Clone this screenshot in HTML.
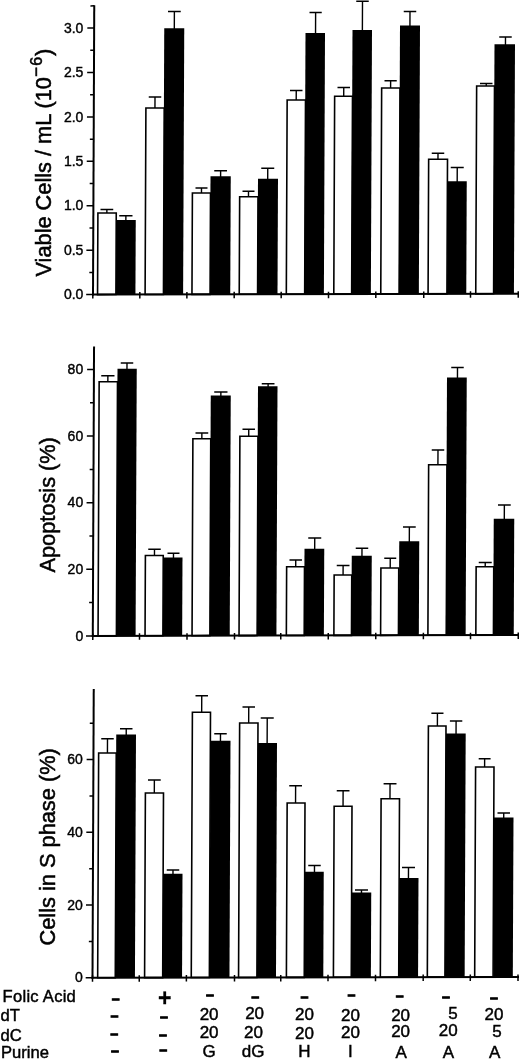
<!DOCTYPE html>
<html lang="en"><head><meta charset="utf-8"><title>Figure</title>
<style>
html,body{margin:0;padding:0;background:#fff;}
body{width:520px;height:1059px;overflow:hidden;}
svg{display:block;font-family:"Liberation Sans",sans-serif;fill:#000;}
.w{fill:#fff;stroke:#000;stroke-width:1.6;}
.b{fill:#000;}
.e{fill:none;stroke:#000;stroke-width:1.4;}
.a{fill:none;stroke:#000;stroke-width:2;}
.t{fill:none;stroke:#000;stroke-width:1.5;}
.l{font-size:14px;text-anchor:end;stroke:#000;stroke-width:.4;}
.ti{stroke:#000;stroke-width:.5;}
.r{font-size:16.6px;stroke:#000;stroke-width:.45;}
.v{font-size:17px;text-anchor:middle;stroke:#000;stroke-width:.45;}
.d{font-size:13.5px;font-weight:bold;text-anchor:middle;stroke:#000;stroke-width:1.1;}
.p{font-size:23px;font-weight:bold;text-anchor:middle;stroke:#000;stroke-width:.3;}
</style></head><body>
<svg width="520" height="1059" viewBox="0 0 520 1059">
<rect width="520" height="1059" fill="#fff"/>
<g transform="matrix(1 -0.002 -0.0043 1 1.27 0.19)">
<path d="M100.13 209.53H112.88M106.51 209.53V213.53" class="e"/>
<rect x="97.55" y="212.98" width="18.35" height="81.62" class="w"/>
<path d="M118.91 215.82H132.16M125.54 215.82V221.07" class="e"/>
<rect x="115.93" y="220.07" width="19.5" height="74.53" class="b"/>
<path d="M147.9 97.12H160.4M154.15 97.12V108.62" class="e"/>
<rect x="145.1" y="108.07" width="18.35" height="186.53" class="w"/>
<path d="M166.78 11.66H179.53M173.16 11.66V29.41" class="e"/>
<rect x="163.1" y="28.41" width="20" height="266.19" class="b"/>
<path d="M195.04 188.22H207.04M201.04 188.22V193.72" class="e"/>
<rect x="191.96" y="193.17" width="18.1" height="101.43" class="w"/>
<path d="M213.72 171.01H226.47M220.09 171.01V177.51" class="e"/>
<rect x="209.99" y="176.51" width="20.25" height="118.09" class="b"/>
<path d="M242.06 191.56H254.06M248.06 191.56V197.56" class="e"/>
<rect x="239.23" y="197.01" width="18.35" height="97.59" class="w"/>
<path d="M260.71 168.6H273.71M267.21 168.6V180.1" class="e"/>
<rect x="257.5" y="179.1" width="20" height="115.5" class="b"/>
<path d="M289.12 90.91H301.62M295.37 90.91V100.91" class="e"/>
<rect x="286.31" y="100.36" width="18.35" height="194.24" class="w"/>
<path d="M308.29 12.95H320.54M314.41 12.95V34.44" class="e"/>
<rect x="304.38" y="33.44" width="19.5" height="261.16" class="b"/>
<path d="M336.61 88H349.11M342.86 88V97.25" class="e"/>
<rect x="333.79" y="96.7" width="17.85" height="197.9" class="w"/>
<path d="M354.99 1.79H367.49M361.24 1.79V31.54" class="e"/>
<rect x="351.36" y="30.54" width="19.5" height="264.06" class="b"/>
<path d="M383.58 81.35H395.83M389.71 81.35V89.1" class="e"/>
<rect x="380.76" y="88.55" width="18.35" height="206.05" class="w"/>
<path d="M402.53 12.13H415.03M408.78 12.13V27.13" class="e"/>
<rect x="398.84" y="26.13" width="20" height="268.47" class="b"/>
<path d="M431.14 153.94H443.64M437.39 153.94V160.44" class="e"/>
<rect x="428.07" y="159.89" width="18.85" height="134.71" class="w"/>
<path d="M450.2 168.23H463.2M456.7 168.23V182.98" class="e"/>
<rect x="447.01" y="181.98" width="19.25" height="112.62" class="b"/>
<path d="M479.09 84.29H491.59M485.34 84.29V87.28" class="e"/>
<rect x="475.75" y="86.73" width="17.85" height="207.87" class="w"/>
<path d="M498.14 37.83H510.64M504.39 37.83V46.07" class="e"/>
<rect x="493.42" y="45.07" width="20.5" height="249.53" class="b"/>
<path d="M93 5.2V295.6" class="a"/>
<path d="M92 294.6H519" class="a"/>
<path d="M86.2 294.6H93" class="t"/>
<path d="M86.2 250.18H93" class="t"/>
<path d="M86.2 205.76H93" class="t"/>
<path d="M86.2 161.34H93" class="t"/>
<path d="M86.2 116.92H93" class="t"/>
<path d="M86.2 72.5H93" class="t"/>
<path d="M86.2 28.08H93" class="t"/>
<path d="M89.2 272.39H93" class="t"/>
<path d="M89.2 227.97H93" class="t"/>
<path d="M89.2 183.55H93" class="t"/>
<path d="M89.2 139.13H93" class="t"/>
<path d="M89.2 94.71H93" class="t"/>
<path d="M89.2 50.29H93" class="t"/>
<path d="M89.2 5.87H93" class="t"/>
<path d="M92.8 292.1V298.6" class="t"/>
<path d="M139.8 292.1V298.6" class="t"/>
<path d="M186.9 292.1V298.6" class="t"/>
<path d="M234.2 292.1V298.6" class="t"/>
<path d="M281.2 292.1V298.6" class="t"/>
<path d="M328.5 292.1V298.6" class="t"/>
<path d="M375.8 292.1V298.6" class="t"/>
<path d="M423.75 292.1V298.6" class="t"/>
<path d="M470.5 292.1V298.6" class="t"/>
<path d="M518.25 292.1V298.6" class="t"/>
</g>
<text x="83.4" y="299.3" class="l">0.0</text>
<text x="83.4" y="254.88" class="l">0.5</text>
<text x="83.4" y="210.46" class="l">1.0</text>
<text x="83.4" y="166.04" class="l">1.5</text>
<text x="83.4" y="121.62" class="l">2.0</text>
<text x="83.4" y="77.2" class="l">2.5</text>
<text x="83.4" y="32.78" class="l">3.0</text>
<text transform="translate(51.2 276.5) rotate(-90) scale(1 1.05)" class="ti" font-size="21.75">Viable Cells / mL (10<tspan dy="-8.7" font-size="17">−</tspan><tspan dx="1.3" font-size="16.2">6</tspan><tspan dy="8.7" dx="0.9">)</tspan></text>
<g transform="matrix(1 -0.002 -0.0043 1 2.73 0.19)">
<path d="M100.13 375.78H113.38M106.76 375.78V382.28" class="e"/>
<rect x="98.06" y="381.73" width="18.35" height="254.17" class="w"/>
<path d="M119.58 363.07H132.08M125.83 363.07V369.82" class="e"/>
<rect x="116.35" y="368.82" width="19.25" height="267.08" class="b"/>
<path d="M147.88 549.37H160.38M154.13 549.37V556.12" class="e"/>
<rect x="145.05" y="555.57" width="17.85" height="80.33" class="w"/>
<path d="M167.14 553.41H179.14M173.14 553.41V558.66" class="e"/>
<rect x="162.91" y="557.66" width="19.25" height="78.24" class="b"/>
<path d="M194.63 433.22H207.38M201 433.22V439.47" class="e"/>
<rect x="192.05" y="438.92" width="17.85" height="196.98" class="w"/>
<path d="M213.2 392.26H226.45M219.83 392.26V396.76" class="e"/>
<rect x="209.72" y="395.76" width="20" height="240.14" class="b"/>
<path d="M241.61 429.56H254.11M247.86 429.56V437.06" class="e"/>
<rect x="239.04" y="436.51" width="18.1" height="199.39" class="w"/>
<path d="M260.67 384.1H273.42M267.04 384.1V387.6" class="e"/>
<rect x="256.93" y="386.6" width="19.5" height="249.3" class="b"/>
<path d="M289.17 560.41H301.67M295.42 560.41V567.65" class="e"/>
<rect x="286.35" y="567.1" width="17.85" height="68.8" class="w"/>
<path d="M307.83 538.44H320.83M314.33 538.44V550.19" class="e"/>
<rect x="304.13" y="549.19" width="19.75" height="86.71" class="b"/>
<path d="M336.45 566H349.2M342.82 566V576" class="e"/>
<rect x="333.89" y="575.45" width="17.6" height="60.45" class="w"/>
<path d="M355.37 548.79H367.87M361.62 548.79V557.29" class="e"/>
<rect x="351.41" y="556.29" width="20" height="79.61" class="b"/>
<path d="M383.92 558.84H395.92M389.92 558.84V569.09" class="e"/>
<rect x="380.61" y="568.54" width="17.85" height="67.36" class="w"/>
<path d="M402.53 527.63H415.28M408.91 527.63V542.88" class="e"/>
<rect x="398.84" y="541.88" width="20" height="94.02" class="b"/>
<path d="M430.95 450.69H443.45M437.2 450.69V465.94" class="e"/>
<rect x="427.91" y="465.39" width="18.35" height="170.51" class="w"/>
<path d="M450.1 368.23H462.6M456.35 368.23V379.23" class="e"/>
<rect x="445.89" y="378.23" width="19.75" height="257.67" class="b"/>
<path d="M478.43 563.28H491.43M484.93 563.28V568.03" class="e"/>
<rect x="475.85" y="567.48" width="17.6" height="68.42" class="w"/>
<path d="M497.44 505.82H510.19M503.81 505.82V520.57" class="e"/>
<rect x="493.25" y="519.57" width="20.5" height="116.33" class="b"/>
<path d="M92.8 346.5V636.9" class="a"/>
<path d="M91.8 635.9H519" class="a"/>
<path d="M86 635.9H92.8" class="t"/>
<path d="M86 569.3H92.8" class="t"/>
<path d="M86 502.7H92.8" class="t"/>
<path d="M86 436.1H92.8" class="t"/>
<path d="M86 369.5H92.8" class="t"/>
<path d="M89 602.6H92.8" class="t"/>
<path d="M89 536H92.8" class="t"/>
<path d="M89 469.4H92.8" class="t"/>
<path d="M89 402.8H92.8" class="t"/>
<path d="M92.8 633.4V639.9" class="t"/>
<path d="M139.5 633.4V639.9" class="t"/>
<path d="M187 633.4V639.9" class="t"/>
<path d="M234.5 633.4V639.9" class="t"/>
<path d="M280.75 633.4V639.9" class="t"/>
<path d="M328.25 633.4V639.9" class="t"/>
<path d="M375.75 633.4V639.9" class="t"/>
<path d="M423.4 633.4V639.9" class="t"/>
<path d="M470.5 633.4V639.9" class="t"/>
<path d="M518.25 633.4V639.9" class="t"/>
</g>
<text x="83.2" y="640.6" class="l">0</text>
<text x="83.2" y="574" class="l">20</text>
<text x="83.2" y="507.4" class="l">40</text>
<text x="83.2" y="440.8" class="l">60</text>
<text x="83.2" y="374.2" class="l">80</text>
<text transform="translate(55.2 572.5) rotate(-90) scale(1 1.05)" class="ti" font-size="21.75">Apoptosis (%)</text>
<g transform="matrix(1 -0.002 -0.0043 1 4.2 0.19)">
<path d="M100.22 738.78H112.72M106.47 738.78V753.53" class="e"/>
<rect x="97.68" y="752.98" width="17.6" height="224.77" class="w"/>
<path d="M118.93 728.82H131.43M125.18 728.82V735.57" class="e"/>
<rect x="115.2" y="734.57" width="19.75" height="243.18" class="b"/>
<path d="M147.15 780.12H159.9M153.52 780.12V793.62" class="e"/>
<rect x="144.6" y="793.07" width="18.1" height="184.68" class="w"/>
<path d="M166.29 870.16H178.79M172.54 870.16V874.91" class="e"/>
<rect x="162.55" y="873.91" width="19.5" height="103.84" class="b"/>
<path d="M194.29 695.97H206.79M200.54 695.97V712.97" class="e"/>
<rect x="191.26" y="712.42" width="18.1" height="265.33" class="w"/>
<path d="M213.2 734H225.7M219.45 734V742" class="e"/>
<rect x="209.48" y="741" width="20" height="236.75" class="b"/>
<path d="M241.34 707.31H253.84M247.59 707.31V723.81" class="e"/>
<rect x="238.55" y="723.26" width="18.35" height="254.49" class="w"/>
<path d="M259.63 718.35H272.63M266.13 718.35V744.35" class="e"/>
<rect x="256.99" y="743.35" width="19" height="234.4" class="b"/>
<path d="M288.42 786.16H301.17M294.8 786.16V803.91" class="e"/>
<rect x="286.4" y="803.36" width="17.85" height="174.39" class="w"/>
<path d="M307.77 865.94H320.27M314.02 865.94V873.19" class="e"/>
<rect x="304.04" y="872.19" width="19.25" height="105.56" class="b"/>
<path d="M335.95 791.25H348.7M342.32 791.25V807.25" class="e"/>
<rect x="333.41" y="806.7" width="17.85" height="171.05" class="w"/>
<path d="M354.62 890.54H367.62M361.12 890.54V894.04" class="e"/>
<rect x="351.13" y="893.04" width="19.75" height="84.71" class="b"/>
<path d="M382.77 784.39H395.67M389.22 784.39V799.89" class="e"/>
<rect x="380.33" y="799.34" width="18.4" height="178.41" class="w"/>
<path d="M401.53 868.13H414.53M408.03 868.13V879.63" class="e"/>
<rect x="398.82" y="878.63" width="19.25" height="99.12" class="b"/>
<path d="M430.26 713.89H442.36M436.31 713.89V727.29" class="e"/>
<rect x="427.32" y="726.74" width="17.6" height="251.01" class="w"/>
<path d="M448.8 721.73H461.2M455 721.73V735.13" class="e"/>
<rect x="444.95" y="734.13" width="19.7" height="243.62" class="b"/>
<path d="M477.76 759.48H489.66M483.71 759.48V768.28" class="e"/>
<rect x="474.69" y="767.73" width="18.4" height="210.02" class="w"/>
<path d="M496.79 813.82H509.29M503.04 813.82V819.32" class="e"/>
<rect x="493.31" y="818.32" width="19.5" height="159.43" class="b"/>
<path d="M92.5 689V978.75" class="a"/>
<path d="M91.5 977.75H519" class="a"/>
<path d="M85.7 977.75H92.5" class="t"/>
<path d="M85.7 905H92.5" class="t"/>
<path d="M85.7 832.25H92.5" class="t"/>
<path d="M85.7 759.5H92.5" class="t"/>
<path d="M88.7 941.38H92.5" class="t"/>
<path d="M88.7 868.62H92.5" class="t"/>
<path d="M88.7 795.88H92.5" class="t"/>
<path d="M88.7 723.12H92.5" class="t"/>
<path d="M92.5 975.25V981.75" class="t"/>
<path d="M139.25 975.25V981.75" class="t"/>
<path d="M186.4 975.25V981.75" class="t"/>
<path d="M234.5 975.25V981.75" class="t"/>
<path d="M280.75 975.25V981.75" class="t"/>
<path d="M328 975.25V981.75" class="t"/>
<path d="M375.5 975.25V981.75" class="t"/>
<path d="M423.2 975.25V981.75" class="t"/>
<path d="M470.3 975.25V981.75" class="t"/>
<path d="M518 975.25V981.75" class="t"/>
</g>
<text x="82.9" y="982.45" class="l">0</text>
<text x="82.9" y="909.7" class="l">20</text>
<text x="82.9" y="836.95" class="l">40</text>
<text x="82.9" y="764.2" class="l">60</text>
<text transform="translate(54.7 945.5) rotate(-90) scale(1 1.05)" class="ti" font-size="21.78">Cells in S phase (%)</text>
<text x="2.6" y="1002" class="r" letter-spacing=".25">Folic Acid</text>
<text x="0.5" y="1021" class="r">dT</text>
<text x="0.5" y="1040.5" class="r">dC</text>
<text x="1.0" y="1057.5" class="r">Purine</text>
<text x="115.95" y="1003.9" class="d">−</text>
<text x="114.8" y="1021" class="d">−</text>
<text x="114.35" y="1039" class="d">−</text>
<text x="115.2" y="1055.7" class="d">−</text>
<text x="164.3" y="1021.9" class="d">−</text>
<text x="163.2" y="1040" class="d">−</text>
<text x="163.55" y="1054.9" class="d">−</text>
<text x="210.2" y="999.6" class="d">−</text>
<text x="255.55" y="1002" class="d">−</text>
<text x="304.75" y="1001.7" class="d">−</text>
<text x="351.62" y="1000.45" class="d">−</text>
<text x="399.9" y="1000.5" class="d">−</text>
<text x="446.2" y="1001.8" class="d">−</text>
<text x="494.2" y="1002.6" class="d">−</text>
<text x="164.6" y="1005.5" class="p">+</text>
<text x="209.1" y="1019.5" class="v">20</text>
<text x="209.1" y="1038.3" class="v">20</text>
<text x="209" y="1056.9" class="v">G</text>
<text x="254.6" y="1019.3" class="v">20</text>
<text x="253.5" y="1038.3" class="v">20</text>
<text x="253.2" y="1056.9" class="v">dG</text>
<text x="304.4" y="1020" class="v">20</text>
<text x="304.4" y="1039.25" class="v">20</text>
<text x="304.4" y="1056.75" class="v">H</text>
<text x="350.4" y="1021.25" class="v">20</text>
<text x="350.4" y="1038" class="v">20</text>
<text x="350.25" y="1056.75" class="v">I</text>
<text x="400.6" y="1021.3" class="v">20</text>
<text x="400.6" y="1036.7" class="v">20</text>
<text x="401.1" y="1057.7" class="v">A</text>
<text x="453" y="1019.2" class="v">5</text>
<text x="448.25" y="1036.2" class="v">20</text>
<text x="448.3" y="1057.7" class="v">A</text>
<text x="494" y="1020" class="v">20</text>
<text x="497.1" y="1037" class="v">5</text>
<text x="494.7" y="1057.7" class="v">A</text>
</svg>
</body></html>
